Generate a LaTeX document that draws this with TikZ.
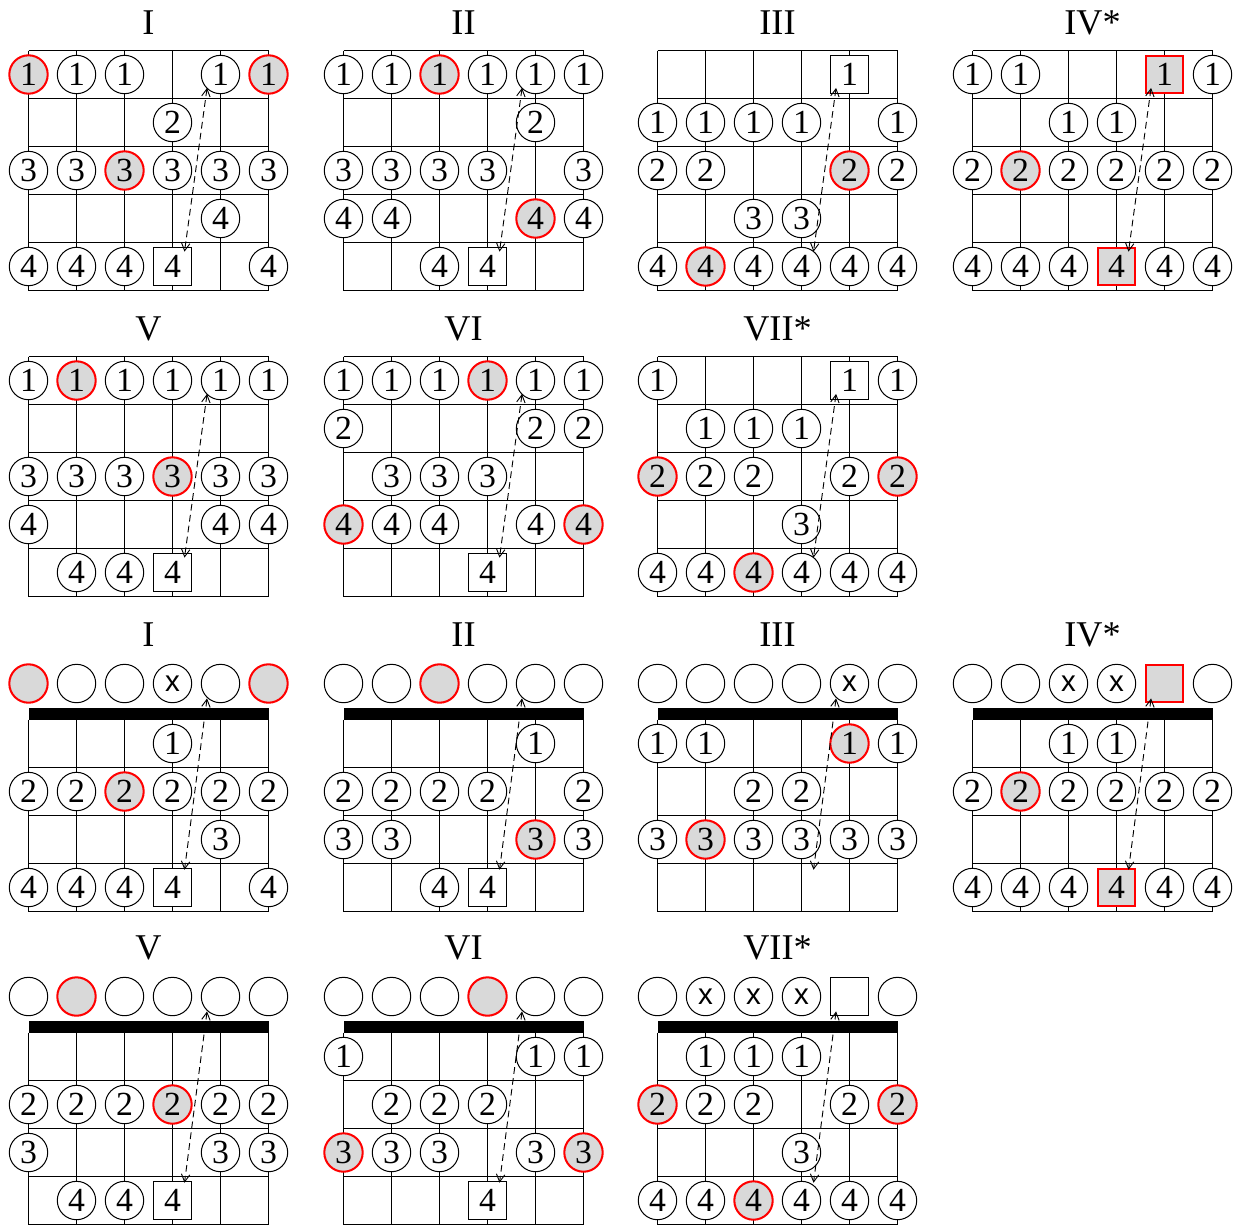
\documentclass[tikz,border=0pt]{standalone}
\usepackage{fontspec}
\setmainfont{Liberation Serif}
\newfontfamily\xfont{Liberation Sans}
\usepackage{tikz}
\usetikzlibrary{positioning,arrows.meta}

% top charts: five frets, no nut
\newcommand{\topchart}[5]{%
\begin{scope}[shift={(#2,#3)}]
\foreach \i in {0,...,5} {\draw[wire] (\i,0) -- (\i,-5); \draw[wire] (0,-\i) -- (5,-\i);}
\node[title] (t#1) at (2.5,0.34) {#4};
\foreach \s/\r/\t/\k in {#5} \node[\k] (#1-\s-\r) at (\s-1,0.5-\r) {\t};
\coordinate (#1-from) at (3.72,-0.78);
\coordinate (#1-to) at (3.25,-4.19);
\draw[hop] (#1-from) -- (#1-to);
\end{scope}}

% bottom charts: open strings above a nut
\newcommand{\nutchart}[6]{%
\begin{scope}[shift={(#2,#3)}]
\foreach \i in {0,...,5} \draw[wire] (\i,0) -- (\i,-4);
\foreach \i in {1,...,4} \draw[wire] (0,-\i) -- (5,-\i);
\fill (0,-0.01) rectangle (5,0.25);
\node[title] (t#1) at (2.5,1.52) {#4};
\foreach \s/\t/\k in {#5} \node[\k] (#1-\s-0) at (\s-1,0.75) {\t};
\foreach \s/\r/\t/\k in {#6} \node[\k] (#1-\s-\r) at (\s-1,0.5-\r) {\t};
\coordinate (#1-from) at (3.72,0.44);
\coordinate (#1-to) at (3.25,-3.13);
\draw[hop] (#1-from) -- (#1-to);
\end{scope}}

\begin{document}
\begin{tikzpicture}[wire/.style={line width=0.6pt},
 main/.style={circle, draw, fill=white, line width=0.6pt, minimum size=0.8cm, inner sep=0pt, font=\fontsize{20}{22}\selectfont},
 root/.style={main, draw=red, line width=1.2pt, fill=black!15},
 box/.style={main, rectangle, minimum size=0.78cm},
 rootbox/.style={box, draw=red, line width=1.2pt, fill=black!15},
 mute/.style={main, font=\xfont\fontsize{17.5}{20}\selectfont},
 title/.style={anchor=base, font=\fontsize{21.5}{24}\selectfont},
 hop/.style={{Straight Barb[length=4.5pt,width=5pt]}-{Straight Barb[length=4.5pt,width=5pt]}, dash pattern=on 4pt off 2.5pt, line width=0.55pt}]

\useasboundingbox (0,0) rectangle (25.7083,-25.5833);

%% upper block
\topchart{a1}{0.59375}{-1.05208}{I}{1/1/1/root, 2/1/1/main, 3/1/1/main, 5/1/1/main, 6/1/1/root,
 4/2/2/main,
 1/3/3/main, 2/3/3/main, 3/3/3/root, 4/3/3/main, 5/3/3/main, 6/3/3/main,
 5/4/4/main,
 1/5/4/main, 2/5/4/main, 3/5/4/main, 4/5/4/box, 6/5/4/main}
\topchart{a2}{7.15625}{-1.05208}{II}{1/1/1/main, 2/1/1/main, 3/1/1/root, 4/1/1/main, 5/1/1/main, 6/1/1/main,
 5/2/2/main,
 1/3/3/main, 2/3/3/main, 3/3/3/main, 4/3/3/main, 6/3/3/main,
 1/4/4/main, 2/4/4/main, 5/4/4/root, 6/4/4/main,
 3/5/4/main, 4/5/4/box}
\topchart{a3}{13.69792}{-1.05208}{III}{5/1/1/box,
 1/2/1/main, 2/2/1/main, 3/2/1/main, 4/2/1/main, 6/2/1/main,
 1/3/2/main, 2/3/2/main, 5/3/2/root, 6/3/2/main,
 3/4/3/main, 4/4/3/main,
 1/5/4/main, 2/5/4/root, 3/5/4/main, 4/5/4/main, 5/5/4/main, 6/5/4/main}
\topchart{a4}{20.26042}{-1.05208}{IV*}{1/1/1/main, 2/1/1/main, 5/1/1/rootbox, 6/1/1/main,
 3/2/1/main, 4/2/1/main,
 1/3/2/main, 2/3/2/root, 3/3/2/main, 4/3/2/main, 5/3/2/main, 6/3/2/main,
 1/5/4/main, 2/5/4/main, 3/5/4/main, 4/5/4/rootbox, 5/5/4/main, 6/5/4/main}
\topchart{a5}{0.59375}{-7.42708}{V}{1/1/1/main, 2/1/1/root, 3/1/1/main, 4/1/1/main, 5/1/1/main, 6/1/1/main,
 1/3/3/main, 2/3/3/main, 3/3/3/main, 4/3/3/root, 5/3/3/main, 6/3/3/main,
 1/4/4/main, 5/4/4/main, 6/4/4/main,
 2/5/4/main, 3/5/4/main, 4/5/4/box}
\topchart{a6}{7.15625}{-7.42708}{VI}{1/1/1/main, 2/1/1/main, 3/1/1/main, 4/1/1/root, 5/1/1/main, 6/1/1/main,
 1/2/2/main, 5/2/2/main, 6/2/2/main,
 2/3/3/main, 3/3/3/main, 4/3/3/main,
 1/4/4/root, 2/4/4/main, 3/4/4/main, 5/4/4/main, 6/4/4/root,
 4/5/4/box}
\topchart{a7}{13.69792}{-7.42708}{VII*}{1/1/1/main, 5/1/1/box, 6/1/1/main,
 2/2/1/main, 3/2/1/main, 4/2/1/main,
 1/3/2/root, 2/3/2/main, 3/3/2/main, 5/3/2/main, 6/3/2/root,
 4/4/3/main,
 1/5/4/main, 2/5/4/main, 3/5/4/root, 4/5/4/main, 5/5/4/main, 6/5/4/main}

%% lower block
\nutchart{b1}{0.59375}{-14.98958}{I}{1/{}/root, 2/{}/main, 3/{}/main, 4/x/mute, 5/{}/main, 6/{}/root}
 {4/1/1/main,
 1/2/2/main, 2/2/2/main, 3/2/2/root, 4/2/2/main, 5/2/2/main, 6/2/2/main,
 5/3/3/main,
 1/4/4/main, 2/4/4/main, 3/4/4/main, 4/4/4/box, 6/4/4/main}
\nutchart{b2}{7.15625}{-14.98958}{II}{1/{}/main, 2/{}/main, 3/{}/root, 4/{}/main, 5/{}/main, 6/{}/main}
 {5/1/1/main,
 1/2/2/main, 2/2/2/main, 3/2/2/main, 4/2/2/main, 6/2/2/main,
 1/3/3/main, 2/3/3/main, 5/3/3/root, 6/3/3/main,
 3/4/4/main, 4/4/4/box}
\nutchart{b3}{13.69792}{-14.98958}{III}{1/{}/main, 2/{}/main, 3/{}/main, 4/{}/main, 5/x/mute, 6/{}/main}
 {1/1/1/main, 2/1/1/main, 5/1/1/root, 6/1/1/main,
 3/2/2/main, 4/2/2/main,
 1/3/3/main, 2/3/3/root, 3/3/3/main, 4/3/3/main, 5/3/3/main, 6/3/3/main}
\nutchart{b4}{20.26042}{-14.98958}{IV*}{1/{}/main, 2/{}/main, 3/x/mute, 4/x/mute, 5/{}/rootbox, 6/{}/main}
 {3/1/1/main, 4/1/1/main,
 1/2/2/main, 2/2/2/root, 3/2/2/main, 4/2/2/main, 5/2/2/main, 6/2/2/main,
 1/4/4/main, 2/4/4/main, 3/4/4/main, 4/4/4/rootbox, 5/4/4/main, 6/4/4/main}
\nutchart{b5}{0.59375}{-21.51042}{V}{1/{}/main, 2/{}/root, 3/{}/main, 4/{}/main, 5/{}/main, 6/{}/main}
 {1/2/2/main, 2/2/2/main, 3/2/2/main, 4/2/2/root, 5/2/2/main, 6/2/2/main,
 1/3/3/main, 5/3/3/main, 6/3/3/main,
 2/4/4/main, 3/4/4/main, 4/4/4/box}
\nutchart{b6}{7.15625}{-21.51042}{VI}{1/{}/main, 2/{}/main, 3/{}/main, 4/{}/root, 5/{}/main, 6/{}/main}
 {1/1/1/main, 5/1/1/main, 6/1/1/main,
 2/2/2/main, 3/2/2/main, 4/2/2/main,
 1/3/3/root, 2/3/3/main, 3/3/3/main, 5/3/3/main, 6/3/3/root,
 4/4/4/box}
\nutchart{b7}{13.69792}{-21.51042}{VII*}{1/{}/main, 2/x/mute, 3/x/mute, 4/x/mute, 5/{}/box, 6/{}/main}
 {2/1/1/main, 3/1/1/main, 4/1/1/main,
 1/2/2/root, 2/2/2/main, 3/2/2/main, 5/2/2/main, 6/2/2/root,
 4/3/3/main,
 1/4/4/main, 2/4/4/main, 3/4/4/root, 4/4/4/main, 5/4/4/main, 6/4/4/main}

\end{tikzpicture}
\end{document}
